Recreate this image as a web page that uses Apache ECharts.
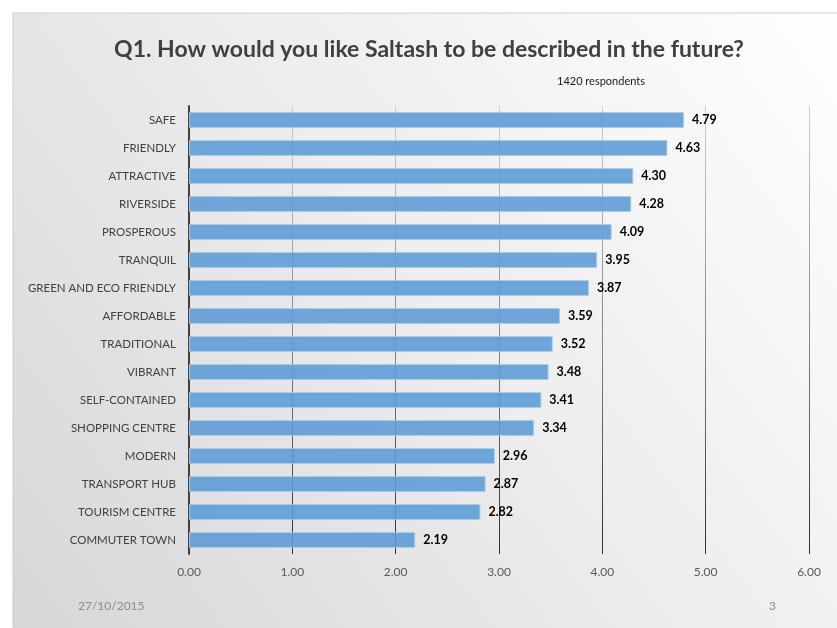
<!DOCTYPE html>
<html>
<head>
<meta charset="utf-8">
<script src="https://cdn.jsdelivr.net/npm/echarts@6/dist/echarts.min.js"></script>
<style>
  html, body { margin: 0; padding: 0; background: #ffffff; }
  #chart { width: 837px; height: 628px; }
</style>
</head>
<body>
<div id="chart"></div>
<script>
// Survey answers, top to bottom
const categories = [
  'SAFE', 'FRIENDLY', 'ATTRACTIVE', 'RIVERSIDE', 'PROSPEROUS', 'TRANQUIL',
  'GREEN AND ECO FRIENDLY', 'AFFORDABLE', 'TRADITIONAL', 'VIBRANT',
  'SELF-CONTAINED', 'SHOPPING CENTRE', 'MODERN', 'TRANSPORT HUB',
  'TOURISM CENTRE', 'COMMUTER TOWN'
];
// Average score per answer
const scores = [4.79, 4.63, 4.30, 4.28, 4.09, 3.95, 3.87, 3.59, 3.52, 3.48, 3.41, 3.34, 2.96, 2.87, 2.82, 2.19];
// Value axis ticks
const xTicks = [0, 1, 2, 3, 4, 5, 6];

const titleText = 'Q1. How would you like Saltash to be described in the future?';
const subtitleText = '1420 respondents';
const dateText = '27/10/2015';
const pageText = '3';

const FONT = 'Lato, "Open Sans", sans-serif';

const chart = echarts.init(document.getElementById('chart'), null, { renderer: 'canvas' });

chart.setOption({
  backgroundColor: '#ffffff',
  animation: false,
  graphic: [
    {
      type: 'rect',
      z: -10,
      silent: true,
      shape: { x: 13, y: 13, width: 840, height: 630 },
      style: {
        fill: {
          type: 'linear', x: 1, y: 0, x2: 0, y2: 1,
          colorStops: [
            { offset: 0, color: '#ffffff' },
            { offset: 0.5, color: '#ececec' },
            { offset: 1, color: '#d6d6d6' }
          ]
        },
        stroke: '#cfcfcf',
        lineWidth: 1
      }
    },
    {
      type: 'text', x: 429, y: 50,
      style: {
        text: titleText, fill: '#404040', font: 'bold 23px ' + FONT,
        align: 'center', verticalAlign: 'middle'
      }
    },
    {
      type: 'text', left: 557, top: 76,
      style: { text: subtitleText, fill: '#1a1a1a', font: '11px ' + FONT }
    },
    {
      type: 'text', left: 78, top: 600,
      style: { text: dateText, fill: '#8c8c8c', font: '12px ' + FONT }
    },
    {
      type: 'text', left: 769, top: 600,
      style: { text: pageText, fill: '#8c8c8c', font: '12px ' + FONT }
    }
  ],
  grid: { left: 189, right: 28, top: 106, bottom: 74, containLabel: false },
  xAxis: {
    type: 'value',
    min: xTicks[0],
    max: xTicks[xTicks.length - 1],
    interval: 1,
    axisLine: { show: false },
    axisTick: { show: false },
    axisLabel: {
      color: '#595959', fontSize: 12, fontFamily: FONT, margin: 12,
      formatter: v => v.toFixed(2)
    },
    splitLine: {
      show: true,
      lineStyle: {
        width: 1,
        color: {
          type: 'linear', x: 0, y: 0, x2: 0, y2: 1,
          colorStops: [
            { offset: 0, color: '#cfcfcf' },
            { offset: 0.5, color: '#8a8a8a' },
            { offset: 1, color: '#2e2e2e' }
          ]
        }
      }
    }
  },
  yAxis: {
    type: 'category',
    data: categories,
    inverse: true,
    axisLine: { show: true, lineStyle: { color: '#404040', width: 2 } },
    axisTick: { show: false },
    axisLabel: { color: '#404040', fontSize: 11.5, fontFamily: FONT, margin: 13 }
  },
  series: [{
    type: 'bar',
    data: scores,
    barCategoryGap: '43%',
    itemStyle: {
      color: 'rgba(91,155,213,0.88)',
      borderColor: 'rgba(170,205,236,0.9)',
      borderWidth: 1
    },
    label: {
      show: true,
      position: 'right',
      distance: 8,
      color: '#000000',
      fontWeight: 'bold',
      fontSize: 12.5,
      fontFamily: FONT,
      formatter: p => p.value.toFixed(2)
    }
  }]
});
</script>
</body>
</html>
